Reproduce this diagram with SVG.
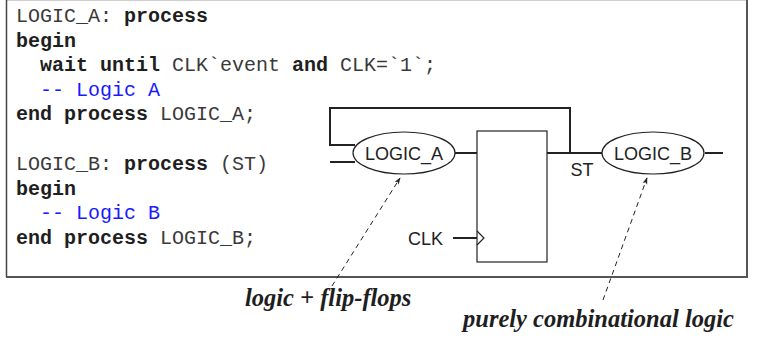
<svg xmlns="http://www.w3.org/2000/svg" width="771" height="338" viewBox="0 0 771 338">
  <defs>
    <style>
      .code { font-family: "Liberation Mono", "Courier New", monospace; font-size: 20px; fill: #3a3a3a; }
      .kw { font-weight: bold; fill: #1e1e1e; }
      .cm { fill: #1a1aff; }
      .lbl { font-family: "Liberation Sans", Arial, sans-serif; font-size: 18px; fill: #222; }
      .note { font-family: "Liberation Serif", "Times New Roman", serif; font-style: italic; font-weight: bold; font-size: 24.5px; fill: #1e1e1e; }
      .wire { fill: none; stroke: #222; stroke-width: 2; }
      .thin { fill: none; stroke: #222; stroke-width: 1.2; }
      .dash { fill: none; stroke: #222; stroke-width: 1; stroke-dasharray: 5 4; }
    </style>
    <marker id="tip" viewBox="0 0 10 10" refX="9" refY="5" markerWidth="7" markerHeight="7" orient="auto">
      <path d="M0,1.5 L10,5 L0,8.5 L2.5,5 Z" fill="#222"/>
    </marker>
  </defs>

  <rect width="771" height="338" fill="#ffffff"/>

  <!-- outer frame -->
  <g id="frame">
    <line x1="6" y1="0.5" x2="747" y2="0.5" stroke="#cfcfcf" stroke-width="1"/>
    <line x1="6.5" y1="0" x2="6.5" y2="277" stroke="#444" stroke-width="1.5"/>
    <line x1="747" y1="0" x2="747" y2="277.5" stroke="#555" stroke-width="2"/>
    <line x1="6" y1="277" x2="748" y2="277" stroke="#555" stroke-width="2"/>
  </g>

  <!-- VHDL source -->
  <g id="code">
    <text class="code" x="16" y="22" xml:space="preserve">LOGIC_A: <tspan class="kw">process</tspan></text>
    <text class="code" x="16" y="46.5"><tspan class="kw">begin</tspan></text>
    <text class="code" x="16" y="71" xml:space="preserve">  <tspan class="kw">wait until</tspan> CLK`event <tspan class="kw">and</tspan> CLK=`1`;</text>
    <text class="code cm" x="16" y="95.5" xml:space="preserve">  -- Logic A</text>
    <text class="code" x="16" y="120" xml:space="preserve"><tspan class="kw">end process</tspan> LOGIC_A;</text>
    <text class="code" x="16" y="170" xml:space="preserve">LOGIC_B: <tspan class="kw">process</tspan> (ST)</text>
    <text class="code" x="16" y="194.5"><tspan class="kw">begin</tspan></text>
    <text class="code cm" x="16" y="219" xml:space="preserve">  -- Logic B</text>
    <text class="code" x="16" y="243.5" xml:space="preserve"><tspan class="kw">end process</tspan> LOGIC_B;</text>
  </g>

  <!-- wiring -->
  <g id="connectors">
    <path class="wire" d="M355,145 H330 V108 H570 V153"/>
    <line class="wire" x1="330" y1="162" x2="355" y2="162"/>
    <line class="wire" x1="455" y1="153" x2="477" y2="153"/>
    <line class="wire" x1="547" y1="153" x2="602" y2="153"/>
    <line class="wire" x1="705" y1="153" x2="723" y2="153"/>
    <line class="wire" x1="453" y1="238" x2="477" y2="238"/>
    <line class="dash" x1="332" y1="286" x2="400" y2="178" marker-end="url(#tip)"/>
    <line class="dash" x1="603" y1="300" x2="647" y2="178" marker-end="url(#tip)"/>
  </g>

  <g id="logic_a">
    <ellipse class="thin" cx="404" cy="153" rx="51" ry="21" fill="#fff"/>
    <text class="lbl" x="404" y="160" text-anchor="middle">LOGIC_A</text>
  </g>

  <g id="flipflop">
    <rect class="thin" x="477" y="131" width="70" height="131" fill="#fff"/>
    <path class="thin" d="M477,231 L484,238 L477,245"/>
  </g>

  <g id="logic_b">
    <ellipse class="thin" cx="653" cy="153" rx="51" ry="21" fill="#fff"/>
    <text class="lbl" x="653" y="160" text-anchor="middle">LOGIC_B</text>
  </g>

  <g id="signal_labels">
    <text class="lbl" x="582" y="176" text-anchor="middle">ST</text>
    <text class="lbl" x="443" y="245" text-anchor="end">CLK</text>
  </g>

  <g id="notes">
    <text class="note" x="245" y="306">logic + flip-flops</text>
    <text class="note" x="463" y="327">purely combinational logic</text>
  </g>
</svg>
